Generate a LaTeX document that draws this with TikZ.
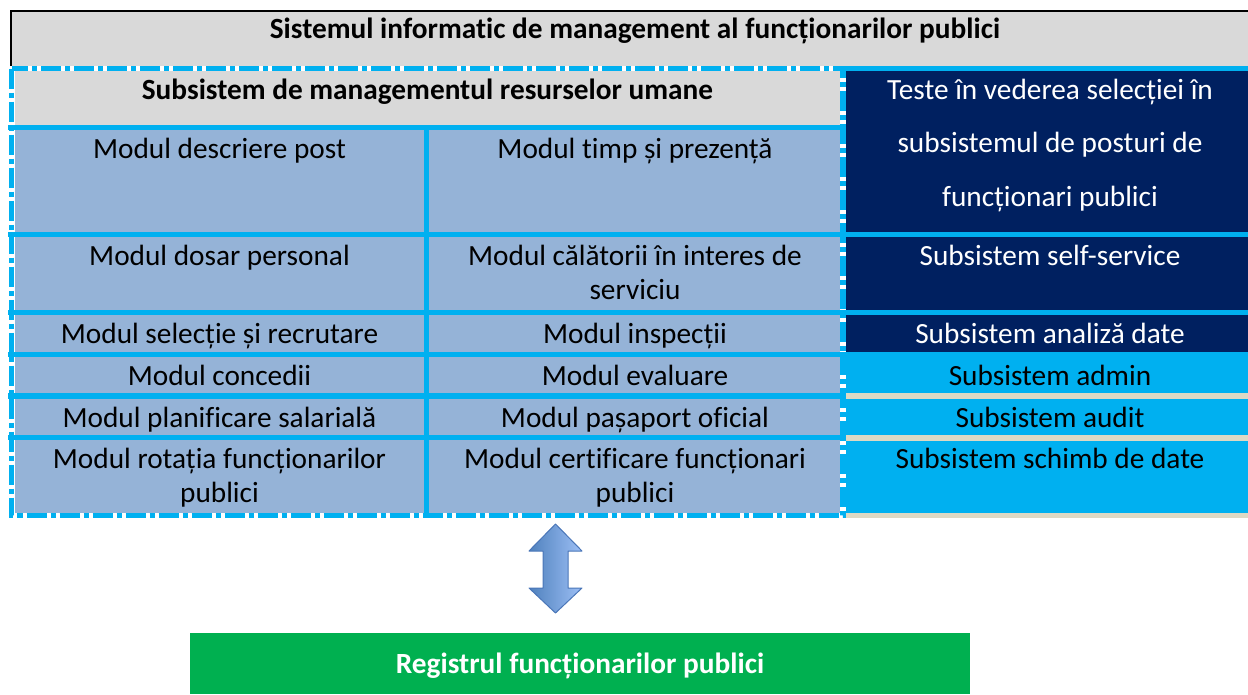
\documentclass[tikz,border=0pt]{standalone}
\usepackage{fontspec}
\setmainfont{Carlito}[Ligatures=CommonOff]
\definecolor{cyanb}{HTML}{00B0F0}
\definecolor{navy}{HTML}{002060}
\definecolor{lblue}{HTML}{95B3D7}
\definecolor{grayh}{HTML}{D9D9D9}
\definecolor{beige}{HTML}{DDD9C4}
\definecolor{greenb}{HTML}{00B050}
\definecolor{arrdark}{HTML}{4F81BD}
\definecolor{arrlight}{HTML}{9DBFF5}
\definecolor{arrborder}{HTML}{4A76B8}
\begin{document}
\begin{tikzpicture}[x=1pt,y=-1pt,
  txt/.style={anchor=base,inner sep=0pt,font=\fontsize{29.3}{34}\selectfont},
  btxt/.style={txt,font=\fontsize{29.3}{34}\selectfont\bfseries},
  wtxt/.style={txt,text=white},
  cline/.style={fill=cyanb},
  bline/.style={fill=beige}]
\useasboundingbox (0,0) rectangle (1248,694);
% outer system box
\fill[grayh] (11,11) rectangle (1248,66);
\draw[black,line width=1.5] (1248,11) -- (11,11) -- (11,66);
% HR subsystem
\fill[grayh] (15,71) rectangle (840,125);
\fill[lblue] (15,125) rectangle (840,513);
\foreach \a/\b in {125/130,232/237,310/315,352/357,393/399,435/440}
  \fill[cline] (8,\a) rectangle (846,\b);
\fill[cline] (424,125) rectangle (429,513);
% right column
\fill[navy] (846,66) rectangle (1248,352);
\fill[cline] (846,66) rectangle (1248,71);
\fill[cline] (846,232) rectangle (1248,237);
\fill[cline] (846,310) rectangle (1248,315);
\fill[cyanb] (846,352) rectangle (1248,513);
\fill[bline] (846,393) rectangle (1248,399);
\fill[bline] (846,435) rectangle (1248,441);
\fill[bline] (846,513) rectangle (1248,518);
% dashed border
\draw[cyanb,line width=5.5,dash pattern=on 20pt off 4pt on 5pt off 4pt] (11.5,68.5) rectangle (843,515.5);
% texts
\node[btxt] (title) at (635,38) {Sistemul informatic de management al funcționarilor publici};
\node[btxt] (hrm) at (427.5,99) {Subsistem de managementul resurselor umane};
\node[txt] (m1) at (219.5,158) {Modul descriere post};
\node[txt] (m2) at (219.5,265) {Modul dosar personal};
\node[txt] (m3) at (219.5,343) {Modul selecție și recrutare};
\node[txt] (m4) at (219.5,385) {Modul concedii};
\node[txt] (m5) at (219.5,427) {Modul planificare salarială};
\node[txt] (m6) at (219.5,468) {Modul rotația funcționarilor};
\node[txt] (m6b) at (219.5,502) {publici};
\node[txt] (n1) at (635,158) {Modul timp și prezență};
\node[txt] (n2) at (635,265) {Modul călătorii în interes de};
\node[txt] (n2b) at (635,299) {serviciu};
\node[txt] (n3) at (635,343) {Modul inspecții};
\node[txt] (n4) at (635,385) {Modul evaluare};
\node[txt] (n5) at (635,427) {Modul pașaport oficial};
\node[txt] (n6) at (635,468) {Modul certificare funcționari};
\node[txt] (n6b) at (635,502) {publici};
\node[wtxt] (s1) at (1050,99) {Teste în vederea selecției în};
\node[wtxt] (s1b) at (1050,152.5) {subsistemul de posturi de};
\node[wtxt] (s1c) at (1050,206) {funcționari publici};
\node[wtxt] (s2) at (1050,265) {Subsistem self-service};
\node[wtxt] (s3) at (1050,343) {Subsistem analiză date};
\node[txt] (s4) at (1050,385) {Subsistem admin};
\node[txt] (s5) at (1050,427) {Subsistem audit};
\node[txt] (s6) at (1050,468) {Subsistem schimb de date};
% register
\node[fill=greenb,anchor=north west,inner sep=0pt,minimum width=780pt,minimum height=61pt] (regbox) at (190,633) {};
\node[btxt,text=white] (reg) at (580,673) {Registrul funcționarilor publici};
% double arrow
\draw[arrborder,line width=1,left color=arrdark,right color=arrlight,line join=round]
  (555.5,524) -- (582,551) -- (568,551) -- (568,588) -- (582,588) -- (555.5,613)
  -- (529,588) -- (543,588) -- (543,551) -- (529,551) -- cycle;
\end{tikzpicture}
\end{document}
